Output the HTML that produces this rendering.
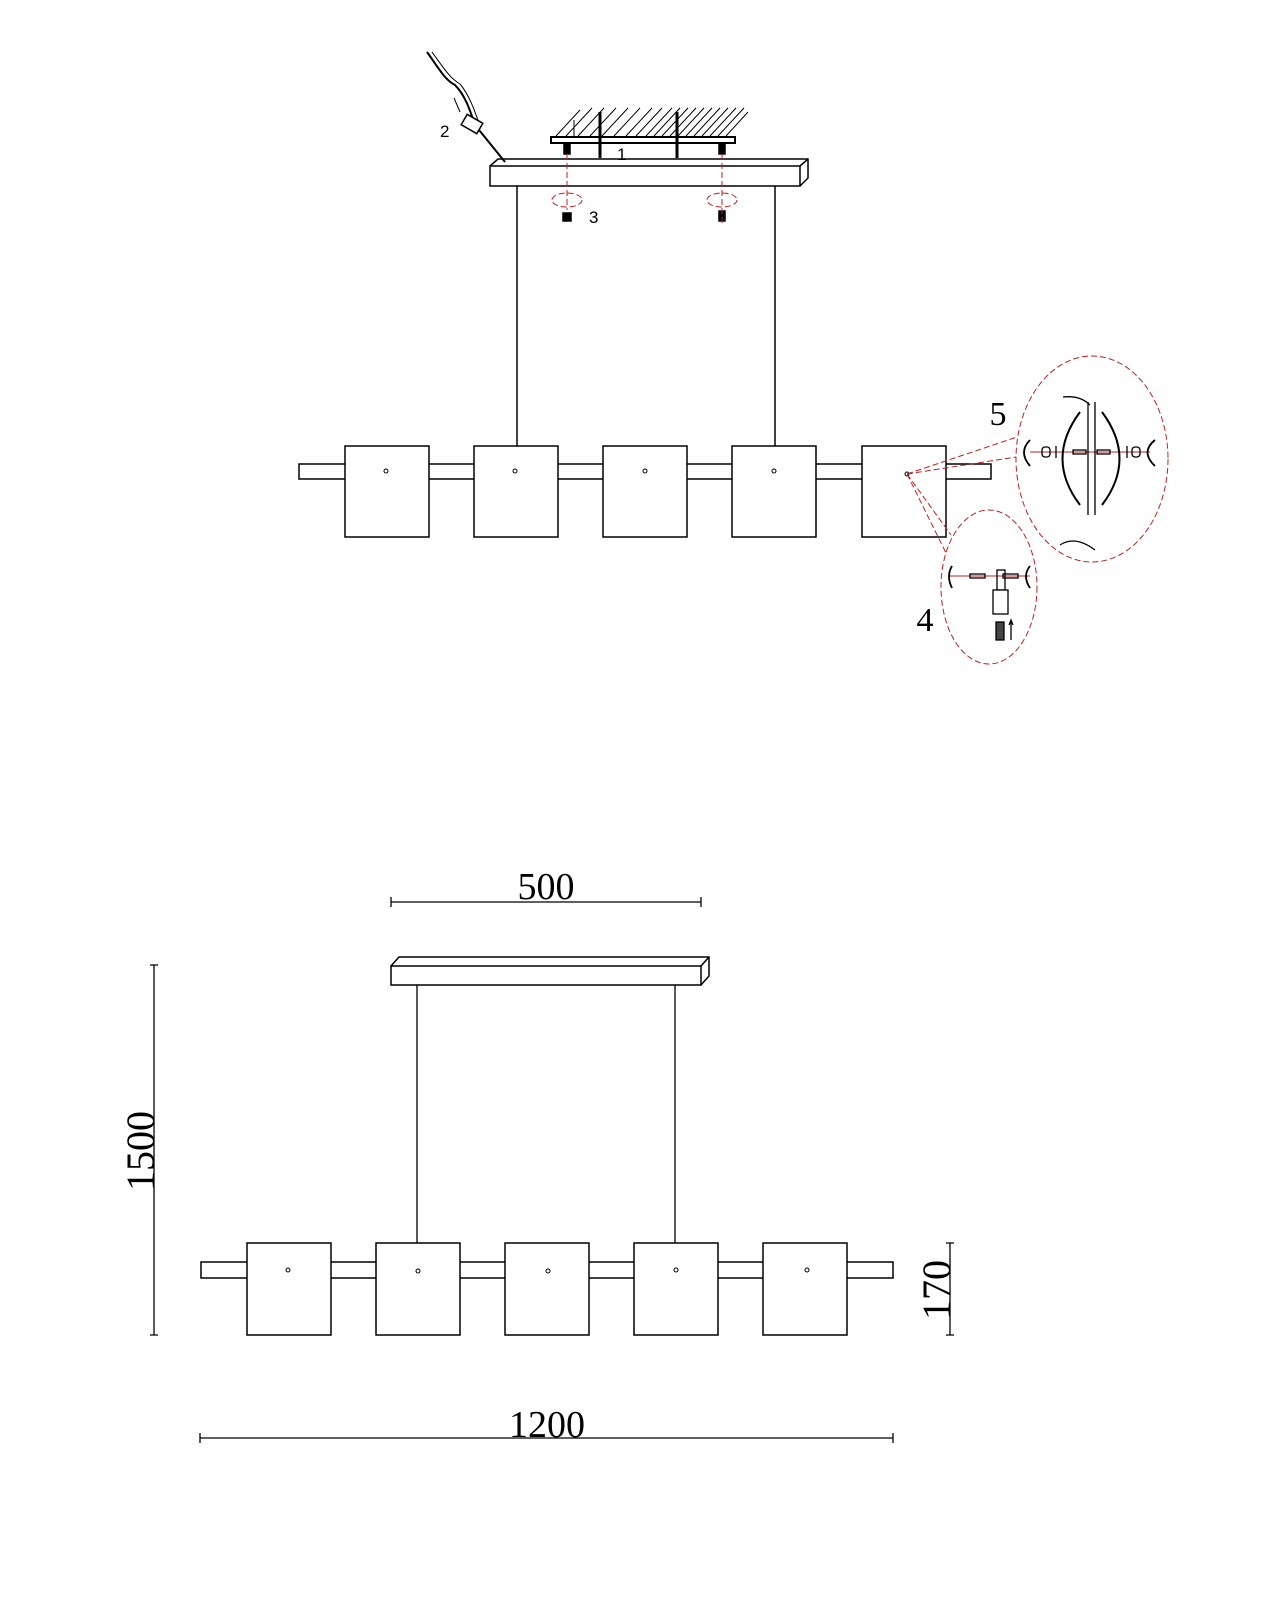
<!DOCTYPE html>
<html><head><meta charset="utf-8"><style>
html,body{margin:0;padding:0;background:#fff;}
svg{display:block;}
</style></head><body>
<svg width="1280" height="1600" viewBox="0 0 1280 1600" xmlns="http://www.w3.org/2000/svg">
<g fill="none" stroke="#000" stroke-width="1.5">
<!-- TOP DRAWING -->
<!-- hatch -->
<g stroke-width="1">
<path d="M556 136 L580 110 M566 136 L592 108 M578 136 L604 108 M590 136 L616 108 M602 136 L628 108 M614 136 L640 108 M626 136 L652 108 M636 136 L662 108 M646 136 L672 108 M654 136 L680 108 M662 136 L688 108 M670 136 L696 108 M678 136 L704 108 M686 136 L712 108 M694 136 L720 108 M702 136 L728 108 M710 136 L736 108 M718 136 L744 108 M726 136 L748 112"/>
</g>
<rect x="551" y="137" width="184" height="6" fill="#fff" stroke-width="2"/>
<rect x="564" y="144" width="6" height="10" fill="#000"/>
<rect x="719" y="144" width="6" height="10" fill="#000"/>
<path d="M600 112 V158 M677 112 V158" stroke-width="3"/>
<path d="M574 120 V136" stroke-width="1"/>
<!-- canopy -->
<path d="M490 166 L498 159 L808 159 L808 178 L800 186"/>
<rect x="490" y="166" width="310" height="20" fill="#fff"/>
<path d="M800 166 L808 159"/>
<!-- wires -->
<path d="M517 186 V446 M775 186 V446"/>
<!-- cord 2 -->
<path d="M427 52 C440 70 445 80 455 85 C465 95 470 110 475 125 L505 162" stroke-width="2"/>
<path d="M432 52 C445 70 450 78 460 84 C470 96 475 112 480 126" stroke-width="1"/>
<rect x="463" y="118" width="18" height="12" transform="rotate(30 472 124)" fill="#fff"/>
<path d="M454 98 L460 112" stroke-width="1"/>
<!-- bar & boxes -->
<rect x="299" y="464" width="692" height="15" fill="#fff"/>
<g fill="#fff">
<rect x="345" y="446" width="84" height="91"/>
<rect x="474" y="446" width="84" height="91"/>
<rect x="603" y="446" width="84" height="91"/>
<rect x="732" y="446" width="84" height="91"/>
<rect x="862" y="446" width="84" height="91"/>
</g>
<g stroke-width="1">
<circle cx="386" cy="471" r="2"/><circle cx="515" cy="471" r="2"/><circle cx="645" cy="471" r="2"/><circle cx="774" cy="471" r="2"/><circle cx="907" cy="474" r="2"/>
</g>
<!-- markers 3 -->
<rect x="563" y="213" width="8" height="8" fill="#000"/>
<rect x="719" y="211" width="6" height="10" fill="#000"/>
</g>
<!-- red dashed -->
<g fill="none" stroke="#b22" stroke-width="1" stroke-dasharray="6,3">
<path d="M567 154 V210 M722 154 V226"/>
<ellipse cx="567" cy="200" rx="15" ry="7"/>
<ellipse cx="722" cy="200" rx="15" ry="7"/>
<path d="M907 474 L1017 437 M907 474 L1016 457 M907 474 L947 555 M907 474 L951 535"/>
<ellipse cx="1092" cy="459" rx="76" ry="103"/>
<ellipse cx="989" cy="587" rx="48" ry="77"/>
<path d="M950 576 H1030" stroke-dasharray="none"/>
<path d="M1030 452 H1150" stroke-dasharray="none"/>
</g>
<g fill="none" stroke="#000" stroke-width="1.3">
<!-- detail 5 -->
<path d="M1088 402 V515 M1095 402 V515"/>
<path d="M1080 412 Q1045 459 1080 505 M1102 412 Q1137 459 1102 505" stroke-width="2"/>
<path d="M1063 397 Q1080 395 1090 405 M1060 545 Q1075 535 1095 550"/>
<path d="M1030 440 Q1018 452 1030 466 M1155 440 Q1140 452 1155 466" stroke-width="1.8"/>
<rect x="1042" y="447" width="8" height="10" rx="3"/>
<rect x="1132" y="447" width="8" height="10" rx="3"/>
<rect x="1073" y="450" width="13" height="4"/><rect x="1097" y="450" width="13" height="4"/>
<path d="M1056 446 V458 M1127 446 V458"/>
<!-- detail 4 -->
<path d="M952 566 Q946 576 952 588 M1030 566 Q1022 576 1030 588" stroke-width="1.8"/>
<rect x="970" y="574" width="15" height="4"/><rect x="1003" y="574" width="15" height="4"/>
<rect x="997" y="570" width="8" height="20"/>
<rect x="993" y="590" width="15" height="24" fill="#fff"/>
<rect x="996" y="622" width="8" height="18" fill="#444"/>
<path d="M1011 640 V622 M1009 625 L1011 620 L1013 625"/>
<!-- BOTTOM DRAWING -->
<path d="M391 966 L399 957 L709 957 L709 976 L701 985" stroke-width="1.5"/>
<rect x="391" y="966" width="310" height="19" fill="#fff" stroke-width="1.5"/>
<path d="M701 966 L709 957" stroke-width="1.5"/>
<path d="M417 985 V1243 M675 985 V1243"/>
<rect x="201" y="1262" width="692" height="16" fill="#fff" stroke-width="1.5"/>
<g fill="#fff" stroke-width="1.5">
<rect x="247" y="1243" width="84" height="92"/>
<rect x="376" y="1243" width="84" height="92"/>
<rect x="505" y="1243" width="84" height="92"/>
<rect x="634" y="1243" width="84" height="92"/>
<rect x="763" y="1243" width="84" height="92"/>
</g>
<g stroke-width="1">
<circle cx="288" cy="1270" r="2"/><circle cx="418" cy="1271" r="2"/><circle cx="548" cy="1271" r="2"/><circle cx="676" cy="1270" r="2"/><circle cx="807" cy="1270" r="2"/>
</g>
<!-- dimensions -->
<path d="M391 902 H701 M391 897 V907 M701 897 V907"/>
<path d="M154 965 V1335 M150 965 H158 M150 1335 H158"/>
<path d="M950 1243 V1335 M946 1243 H954 M946 1335 H954"/>
<path d="M200 1438 H893 M200 1433 V1443 M893 1433 V1443"/>
</g>
<g font-family="Liberation Sans, sans-serif" font-size="17" fill="#000">
<text x="440" y="137">2</text>
<text x="617" y="160">1</text>
<text x="589" y="223">3</text>
</g>
<g font-family="Liberation Serif, serif" fill="#000">
<text x="998" y="425" font-size="34" text-anchor="middle">5</text>
<text x="925" y="631" font-size="34" text-anchor="middle">4</text>
<text x="546" y="899" font-size="38" text-anchor="middle">500</text>
<text x="547" y="1437" font-size="38" text-anchor="middle">1200</text>
<text transform="translate(154 1151) rotate(-90)" font-size="40" text-anchor="middle">1500</text>
<text transform="translate(950 1290) rotate(-90)" font-size="40" text-anchor="middle">170</text>
</g>
</svg>
</body></html>
